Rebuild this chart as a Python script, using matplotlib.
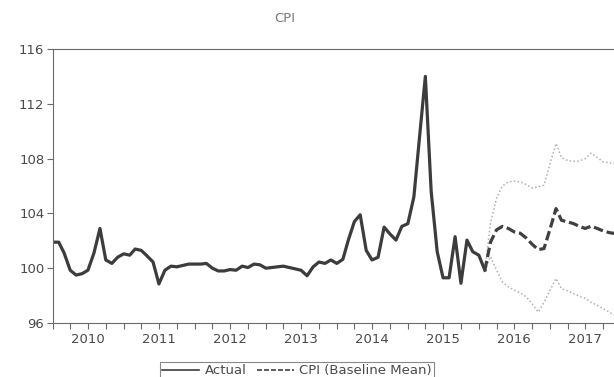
import numpy as np
import pandas as pd
import matplotlib
matplotlib.use("Agg")
import matplotlib.pyplot as plt
import matplotlib.dates as mdates

# Monthly CPI, Jan 2010 onward
actual = [
    101.9, 101.9, 101.1, 99.85, 99.5, 99.6, 99.85, 101.1, 102.9, 100.6, 100.35, 100.8,
    101.05, 100.95, 101.4, 101.3, 100.9, 100.45, 98.85, 99.85, 100.15, 100.1, 100.2, 100.3,
    100.3, 100.3, 100.35, 100.0, 99.8, 99.8, 99.9, 99.85, 100.15, 100.05, 100.3, 100.25,
    100.0, 100.05, 100.1, 100.15, 100.05, 99.95, 99.85, 99.45, 100.1, 100.45, 100.35, 100.6,
    100.35, 100.65, 102.05, 103.4, 103.9, 101.3, 100.6, 100.8, 103.0, 102.5, 102.05, 103.05,
    103.25, 105.2, 109.4, 114.0, 105.6, 101.2, 99.3, 99.3, 102.3, 98.9, 102.05, 101.2,
    100.95, 99.85,
]

# Forecast (baseline mean and band), starting from the last observation
mean = [
    99.85, 101.9, 102.8, 103.05, 102.9, 102.65, 102.55, 102.2, 101.75, 101.36, 101.43,
    102.85, 104.35, 103.5, 103.38, 103.26, 103.05, 102.9, 103.07, 102.9, 102.72, 102.6, 102.53,
]
upper = [
    99.85, 103.3, 105.1, 106.0, 106.3, 106.35, 106.3, 106.1, 105.86, 105.94, 106.06,
    107.64, 109.1, 108.08, 107.86, 107.8, 107.83, 108.0, 108.4, 108.08, 107.76, 107.7, 107.64,
]
lower = [
    99.85, 100.85, 99.85, 99.0, 98.64, 98.4, 98.2, 97.9, 97.4, 96.8, 97.5,
    98.4, 99.25, 98.5, 98.35, 98.15, 97.95, 97.8, 97.5, 97.3, 97.05, 96.8, 96.55,
]

y_ticks = [96, 100, 104, 108, 112, 116]
title = "CPI"
legend_labels = ["Actual", "CPI (Baseline Mean)"]

actual_dates = pd.date_range("2010-01-01", periods=len(actual), freq="MS")
fc_dates = pd.date_range(actual_dates[-1], periods=len(mean), freq="MS")

plt.rcParams["font.family"] = ["DejaVu Sans"]
text_col = "#4a4a4a"
axis_col = "#6a6a6a"

fig = plt.figure(figsize=(6.14, 3.77), dpi=100)
ax = fig.add_axes([52.7 / 614, 1 - 323 / 377, (621 - 52.7) / 614, (323 - 49) / 377])

ax.plot(fc_dates, upper, color="#b0b0b0", lw=1.1, ls=(0, (1, 1.5)))
ax.plot(fc_dates, lower, color="#b0b0b0", lw=1.1, ls=(0, (1, 1.5)))
l_act, = ax.plot(actual_dates, actual, color="#3c3c3c", lw=2.3, solid_joinstyle="round")
l_mean, = ax.plot(fc_dates, mean, color="#404040", lw=2.3, ls=(0, (3.0, 1.2)))

ax.set_xlim(pd.Timestamp("2010-01-01"), pd.Timestamp("2018-01-01"))
ax.set_ylim(96, 116)
ax.set_yticks(y_ticks)
ax.set_yticklabels([str(v) for v in y_ticks])

ax.xaxis.set_major_locator(mdates.YearLocator(1, month=7, day=1))
ax.xaxis.set_major_formatter(mdates.DateFormatter("%Y"))
ax.xaxis.set_minor_locator(mdates.MonthLocator(bymonth=[1, 4, 10]))

ax.tick_params(axis="both", which="both", direction="out", length=4, width=0.8,
               color=axis_col, labelcolor=text_col, labelsize=9.5)
ax.tick_params(axis="x", which="minor", length=4)
ax.tick_params(axis="y", pad=2)
for s in ax.spines.values():
    s.set_color(axis_col)
    s.set_linewidth(0.8)

fig.text(285 / 614, 1 - 18 / 377, title, ha="center", va="center",
         fontsize=9.5, color="#7a7a7a")

leg = fig.legend([l_act, l_mean], legend_labels, loc="upper center",
                 bbox_to_anchor=(297 / 614, 1 - 355 / 377), ncol=2,
                 fontsize=9.5, frameon=True, fancybox=False, handlelength=2.8,
                 handletextpad=0.4, columnspacing=0.8, borderpad=0.2,
                 labelcolor=text_col)
leg.get_frame().set_edgecolor(axis_col)
leg.get_frame().set_linewidth(0.8)
leg.legend_handles[0].set_linewidth(1.2)
leg.legend_handles[1].set_linewidth(1.2)

fig.savefig("out.png", dpi=100, facecolor="white")
